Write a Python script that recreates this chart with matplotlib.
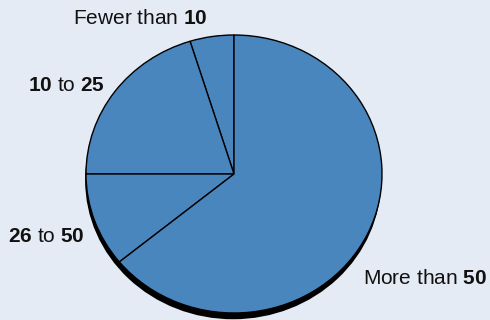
import matplotlib
matplotlib.use("Agg")
import matplotlib.pyplot as plt
from matplotlib.patches import Ellipse

plt.rcParams['font.family'] = ['Liberation Sans', 'DejaVu Sans']
plt.rcParams['mathtext.fontset'] = 'custom'
plt.rcParams['mathtext.rm'] = 'Liberation Sans'
plt.rcParams['mathtext.bf'] = 'Liberation Sans:bold'

# share of respondents by group size
groups = ['Fewer than 10', '10 to 25', '26 to 50', 'More than 50']
shares = [4.8, 20.2, 10.9, 64.1]
label_text = [r'Fewer than $\mathbf{10}$', r'$\mathbf{10}$ to $\mathbf{25}$',
              r'$\mathbf{26}$ to $\mathbf{50}$', r'More than $\mathbf{50}$']

# label anchor positions in data units
label_pos = [(-0.635, 1.122), (-1.135, 0.64), (-1.27, -0.453), (1.291, -0.755)]

bg = '#e5ebf5'
fill = '#4a86be'

fig = plt.figure(figsize=(4.9, 3.2), dpi=100)
fig.patch.set_facecolor(bg)
ax = fig.add_axes([0, 0, 1, 1])
ax.set_facecolor(bg)

# drop shadow under the pie
ax.add_patch(Ellipse((-0.006, -0.045), 2.0, 2.0, facecolor='black',
                     edgecolor='none', zorder=0))

ax.pie(shares, startangle=90, counterclock=True, colors=[fill] * len(shares),
       wedgeprops=dict(edgecolor='black', linewidth=1.0), frame=True)

for txt, (x, y) in zip(label_text, label_pos):
    ax.text(x, y, txt, fontsize=15, ha='center', va='center', color='#111111')

# pixel mapping: centre at (234, 174) px, radius 148 px wide, 139 px tall
ax.set_aspect('auto')
ax.set_xlim(-234 / 148, (490 - 234) / 148)
ax.set_ylim(-146 / 139, 174 / 139)
ax.axis('off')

fig.savefig('out.png', dpi=100, facecolor=bg)
